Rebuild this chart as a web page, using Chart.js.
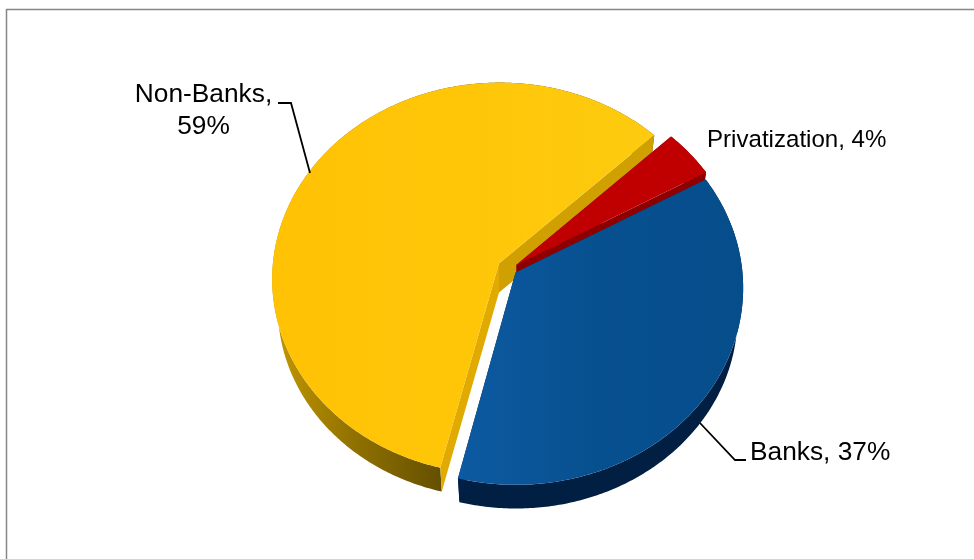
<!DOCTYPE html>
<html>
<head>
<meta charset="utf-8">
<title>Funding sources</title>
<script src="https://cdn.jsdelivr.net/npm/chart.js@4"></script>
<style>
    html, body { margin: 0; padding: 0; background: #fff; }
    canvas { display: block; }
</style>
</head>
<body>
<canvas id="fundingChart" width="974" height="559"></canvas>
<script>
const categories = ['Banks', 'Non-Banks', 'Privatization'];
const shares = [37, 59, 4];
const explode = [6, 11, 7];

const topColors = [['#0d5aa2', '#07508f', '#064d8c'], ['#ffc205', '#ffc608', '#fdcb10'], ['#c00000', '#c00000', '#c00000']];
const startCutColors = ['#00204a', '#e0aa00', '#8e0000'];
const endCutColors = ['#00204a', '#d0a000', '#8e0000'];
const rimColors = [['#001f42', '#001f42', '#001f42'], ['#c49800', '#8f7000', '#655000'], ['#8e0000', '#8e0000', '#8e0000']];

const TILT = { scaleX: 1.159, persp: 0.076, depth: 29, shrink: 0.975 };

// tilted disc: the near edge of the pie comes out larger than the far edge
function project(chart, px, py) {
    const el = chart.getDatasetMeta(0).data[0];
    const X = px - el.x;
    const Y = py - el.y;
    const w = 1 - TILT.persp * Y / el.outerRadius;
    return { x: el.x + TILT.scaleX * X / w, y: el.y + Y / w };
}

function sliceOutline(chart, arc) {
    const { x, y, startAngle, endAngle, outerRadius, options } = arc;
    const mid = (startAngle + endAngle) / 2;
    const ox = x + Math.cos(mid) * options.offset;
    const oy = y + Math.sin(mid) * options.offset;
    const rim = [];
    const steps = Math.ceil((endAngle - startAngle) * 90);
    for (let i = 0; i <= steps; i++) {
        const a = startAngle + (endAngle - startAngle) * i / steps;
        rim.push(project(chart, ox + Math.cos(a) * outerRadius, oy + Math.sin(a) * outerRadius));
    }
    return { apex: project(chart, ox, oy), rim };
}

function lower(p, apex) {
    return {
        x: apex.x + (p.x - apex.x) * TILT.shrink,
        y: apex.y + (p.y - apex.y) * TILT.shrink + TILT.depth
    };
}

function fillPath(ctx, pts, fill) {
    ctx.beginPath();
    pts.forEach((p, i) => i ? ctx.lineTo(p.x, p.y) : ctx.moveTo(p.x, p.y));
    ctx.closePath();
    ctx.fillStyle = fill;
    ctx.fill();
}

function hGradient(ctx, pts, colors) {
    const xs = pts.map(p => p.x);
    const g = ctx.createLinearGradient(Math.min(...xs), 0, Math.max(...xs), 0);
    colors.forEach((c, i) => g.addColorStop(i / (colors.length - 1), c));
    return g;
}

const pie3d = {
    id: 'pie3d',
    beforeDatasetsDraw(chart) {
        const ctx = chart.ctx;
        const arcs = chart.getDatasetMeta(0).data;
        // back to front, the blue slice sits over the red side wall
        [1, 2, 0].forEach(i => {
            const { apex, rim } = sliceOutline(chart, arcs[i]);
            const apexLow = lower(apex, apex);
            const rimLow = rim.map(p => lower(p, apex));
            const last = rim.length - 1;
            const front = rim.filter(p => p.y > apex.y);

            const wall = rim.concat(rimLow.slice().reverse());
            fillPath(ctx, wall, hGradient(ctx, front.length ? front : rim, rimColors[i]));
            fillPath(ctx, [apex, rim[0], rimLow[0], apexLow], startCutColors[i]);
            fillPath(ctx, [apex, rim[last], rimLow[last], apexLow], endCutColors[i]);
            fillPath(ctx, [apex].concat(rim), hGradient(ctx, rim, topColors[i]));
        });
        return false;
    }
};

const callouts = {
    id: 'callouts',
    afterDraw(chart) {
        const ctx = chart.ctx;
        const text = i => categories[i] + ', ' + shares[i] + '%';
        ctx.save();

        // chart frame
        ctx.strokeStyle = '#868686';
        ctx.lineWidth = 1.5;
        ctx.beginPath();
        ctx.moveTo(6.5, 559);
        ctx.lineTo(6.5, 9.5);
        ctx.lineTo(974, 9.5);
        ctx.stroke();

        // leader lines
        ctx.strokeStyle = '#000';
        ctx.lineWidth = 1.8;
        ctx.beginPath();
        ctx.moveTo(278, 103);
        ctx.lineTo(291, 103);
        ctx.lineTo(310, 173);
        ctx.moveTo(700, 423);
        ctx.lineTo(735, 460);
        ctx.lineTo(746, 460);
        ctx.stroke();

        ctx.fillStyle = '#000';
        ctx.textBaseline = 'alphabetic';
        ctx.font = '26.3px "Liberation Sans", Arial, sans-serif';
        ctx.textAlign = 'center';
        ctx.fillText(categories[1] + ',', 203.5, 102);
        ctx.fillText(shares[1] + '%', 203.5, 134);
        ctx.textAlign = 'left';
        ctx.fillText(text(0), 750, 460);
        ctx.font = '24.1px "Liberation Sans", Arial, sans-serif';
        ctx.fillText(text(2), 707, 147);
        ctx.restore();
    }
};

new Chart(document.getElementById('fundingChart'), {
    type: 'pie',
    data: {
        labels: categories,
        datasets: [{
            data: shares,
            offset: explode,
            borderWidth: 0,
            radius: 195.5
        }]
    },
    options: {
        responsive: false,
        animation: false,
        rotation: 60.5,
        layout: { padding: { left: 46, bottom: 21 } },
        plugins: {
            legend: { display: false },
            tooltip: { enabled: false }
        }
    },
    plugins: [pie3d, callouts]
});
</script>
</body>
</html>
